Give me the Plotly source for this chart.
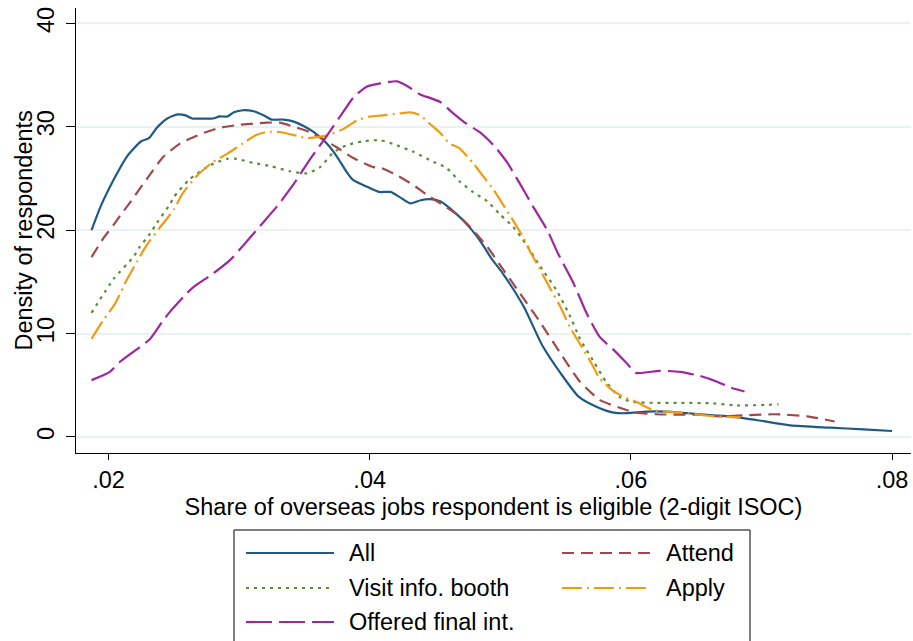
import plotly.graph_objects as go

# Kernel density of the share of overseas jobs a respondent is eligible for,
# by stage of the job-fair funnel.

all_x = [0.0187, 0.0194, 0.0204, 0.0214, 0.0225, 0.0231, 0.0237, 0.0245, 0.0253, 0.0259,
         0.0264, 0.0273, 0.0280, 0.0285, 0.0291, 0.0296, 0.0303, 0.0311, 0.0319, 0.0325,
         0.0334, 0.0342, 0.0349, 0.0357, 0.0367, 0.0375, 0.0382, 0.0387, 0.0398, 0.0407,
         0.0416, 0.0423, 0.0431, 0.0439, 0.0446, 0.0454, 0.0467, 0.0477, 0.0486, 0.0493,
         0.0502, 0.0518, 0.0532, 0.0546, 0.0560, 0.0574, 0.0587, 0.0597, 0.0612, 0.0627,
         0.0643, 0.0663, 0.0676, 0.0696, 0.0722, 0.0753, 0.0778, 0.0800]
all_y = [20.0, 22.3, 24.9, 27.1, 28.6, 28.9, 29.9, 30.8, 31.2, 31.1,
         30.8, 30.8, 30.8, 31.0, 31.0, 31.4, 31.6, 31.5, 31.1, 30.7,
         30.7, 30.5, 30.1, 29.5, 28.4, 27.1, 25.7, 24.9, 24.2, 23.7,
         23.7, 23.2, 22.6, 22.9, 23.0, 22.8, 21.5, 20.2, 18.7, 17.3,
         15.8, 12.6, 8.9, 6.2, 3.9, 2.9, 2.35, 2.3, 2.45, 2.45,
         2.3, 2.1, 2.0, 1.64, 1.13, 0.9, 0.74, 0.58]

attend_x = [0.0187, 0.0196, 0.0205, 0.0210, 0.0216, 0.0229, 0.0242, 0.0255, 0.0265, 0.0275,
            0.0285, 0.0301, 0.0311, 0.0321, 0.0331, 0.0342, 0.0354, 0.0364, 0.0375, 0.0387,
            0.0403, 0.0409, 0.0421, 0.0433, 0.0444, 0.0454, 0.0467, 0.0477, 0.0490, 0.0500,
            0.0515, 0.0530, 0.0546, 0.0561, 0.0576, 0.0592, 0.0604, 0.0620, 0.0638, 0.0653,
            0.0668, 0.0689, 0.0709, 0.0735, 0.0756]
attend_y = [17.4, 19.2, 20.7, 21.6, 22.6, 24.9, 27.1, 28.4, 29.0, 29.5,
            29.9, 30.2, 30.3, 30.4, 30.4, 30.0, 29.5, 28.8, 28.0, 27.0,
            26.1, 26.0, 25.3, 24.4, 23.4, 22.6, 21.5, 20.3, 18.4, 16.6,
            13.9, 11.2, 8.1, 5.35, 3.6, 2.8, 2.35, 2.2, 2.15, 2.15,
            2.0, 2.1, 2.2, 2.0, 1.5]

visit_x = [0.0187, 0.0204, 0.0219, 0.0224, 0.0232, 0.0237, 0.0247, 0.0250, 0.0262, 0.0278,
           0.0291, 0.0298, 0.0311, 0.0324, 0.0339, 0.0352, 0.0362, 0.0372, 0.0382, 0.0395,
           0.0408, 0.0421, 0.0433, 0.0449, 0.0459, 0.0469, 0.0479, 0.0490, 0.0500, 0.0510,
           0.0520, 0.0530, 0.0543, 0.0553, 0.0561, 0.0571, 0.0581, 0.0592, 0.0602, 0.0617,
           0.0638, 0.0663, 0.0681, 0.0713]
visit_y = [12.0, 15.3, 17.4, 18.4, 19.7, 20.7, 22.5, 23.2, 24.9, 26.3,
           26.9, 26.9, 26.5, 26.2, 25.7, 25.5, 26.1, 27.5, 28.2, 28.6,
           28.7, 28.2, 27.6, 26.6, 26.0, 24.7, 23.7, 22.8, 21.5, 20.3,
           18.6, 16.6, 14.2, 11.8, 9.5, 7.4, 5.35, 3.8, 3.4, 3.3,
           3.3, 3.25, 3.05, 3.15]

apply_x = [0.0187, 0.0196, 0.0205, 0.0214, 0.0222, 0.0229, 0.0239, 0.0250, 0.0257, 0.0268,
           0.0280, 0.0291, 0.0303, 0.0313, 0.0321, 0.0331, 0.0342, 0.0352, 0.0359, 0.0368,
           0.0380, 0.0390, 0.0400, 0.0410, 0.0423, 0.0431, 0.0439, 0.0446, 0.0454, 0.0461,
           0.0469, 0.0479, 0.0487, 0.0495, 0.0502, 0.0510, 0.0518, 0.0523, 0.0530, 0.0538,
           0.0546, 0.0553, 0.0561, 0.0569, 0.0576, 0.0587, 0.0594, 0.0604, 0.0617, 0.0627,
           0.0643, 0.0663, 0.0684]
apply_y = [9.5, 11.3, 12.9, 15.2, 17.0, 18.5, 20.2, 22.0, 23.6, 25.3,
           26.6, 27.4, 28.4, 29.2, 29.5, 29.5, 29.2, 28.9, 29.0, 29.2,
           29.8, 30.6, 31.0, 31.1, 31.3, 31.4, 31.1, 30.3, 29.4, 28.4,
           27.9, 26.5, 25.2, 23.9, 22.5, 20.9, 19.2, 17.9, 16.3, 14.4,
           12.6, 10.7, 9.0, 7.3, 5.7, 4.4, 3.9, 3.4, 2.6, 2.45,
           2.3, 2.0, 1.9]

offer_x = [0.0187, 0.0201, 0.0209, 0.0224, 0.0232, 0.0242, 0.0247, 0.0260, 0.0265, 0.0280,
           0.0293, 0.0303, 0.0316, 0.0329, 0.0342, 0.0354, 0.0367, 0.0380, 0.0388, 0.0398,
           0.0408, 0.0421, 0.0428, 0.0439, 0.0446, 0.0454, 0.0464, 0.0474, 0.0484, 0.0495,
           0.0505, 0.0515, 0.0525, 0.0536, 0.0544, 0.0556, 0.0566, 0.0576, 0.0587, 0.0597,
           0.0604, 0.0622, 0.0638, 0.0653, 0.0666, 0.0676, 0.0687]
offer_y = [5.5, 6.3, 7.3, 8.7, 9.5, 11.3, 12.1, 13.9, 14.5, 15.8,
           17.1, 18.5, 20.4, 22.3, 24.5, 26.8, 29.1, 31.5, 32.9, 33.9,
           34.2, 34.4, 34.0, 33.1, 32.8, 32.4, 31.3, 30.3, 29.5, 28.2,
           26.6, 24.5, 22.3, 20.0, 17.8, 14.9, 12.0, 9.7, 8.4, 7.1,
           6.2, 6.4, 6.3, 5.9, 5.35, 4.8, 4.4]

x_tickvals = [0.02, 0.04, 0.06, 0.08]
x_ticktext = [".02", ".04", ".06", ".08"]
y_tickvals = [0, 10, 20, 30, 40]

series = [
    ("All", all_x, all_y, "#1f5a85", "solid"),
    ("Attend", attend_x, attend_y, "#a34848", "12px,7px"),
    ("Visit info. booth", visit_x, visit_y, "#5f8c3c", "3px,5px"),
    ("Apply", apply_x, apply_y, "#f29b12", "20px,5px,2px,5px"),
    ("Offered final int.", offer_x, offer_y, "#a0269f", "26px,7px"),
]

W, H = 913, 641
ML, MR, MT, MB = 76, 2, 8, 188
FONT = "Liberation Sans, Arial, sans-serif"
FS = 23.5

fig = go.Figure()
for name, xs, ys, color, dash in series:
    fig.add_trace(go.Scatter(
        x=xs, y=ys, mode="lines", name=name, showlegend=False,
        line=dict(color=color, width=2.2, dash=dash, shape="spline", smoothing=0.6),
    ))

# Legend drawn as a boxed two-column key below the plot (pixel layout -> paper coords)
def px_x(px):
    return (px - ML) / (W - ML - MR)

def px_y(py):
    return (H - MB - py) / (H - MT - MB)

shapes = [dict(type="rect", xref="paper", yref="paper",
               x0=px_x(234), x1=px_x(750), y0=px_y(700), y1=px_y(530),
               line=dict(color="black", width=1), fillcolor="white", layer="above")]
annotations = []
slots = [(246, 334, 347, 553), (562, 651, 664, 553),
         (246, 334, 347, 588), (562, 651, 664, 588),
         (246, 334, 347, 622)]
for (name, _, _, color, dash), (lx0, lx1, tx, ty) in zip(series, slots):
    shapes.append(dict(type="line", xref="paper", yref="paper",
                       x0=px_x(lx0), x1=px_x(lx1), y0=px_y(ty), y1=px_y(ty),
                       line=dict(color=color, width=2.2, dash=dash), layer="above"))
    annotations.append(dict(xref="paper", yref="paper", x=px_x(tx), y=px_y(ty),
                            text=name, showarrow=False, xanchor="left", yanchor="middle",
                            font=dict(size=FS, color="black", family=FONT)))

# Vertical y-axis title
annotations.append(dict(xref="paper", yref="paper", x=px_x(23), y=0.5,
                        text="Density of respondents", textangle=-90, showarrow=False,
                        xanchor="center", yanchor="middle",
                        font=dict(size=FS, color="black", family=FONT)))

fig.update_layout(
    width=W, height=H,
    margin=dict(l=ML, r=MR, t=MT, b=MB),
    paper_bgcolor="white", plot_bgcolor="white",
    font=dict(family=FONT, color="black", size=FS),
    shapes=shapes, annotations=annotations,
    showlegend=False,
)
fig.update_xaxes(
    range=[0.01751, 0.08145], tickvals=x_tickvals, ticktext=x_ticktext,
    ticks="outside", ticklen=6, tickwidth=1.2, tickcolor="black",
    showline=True, linecolor="black", linewidth=1.2,
    showgrid=False, zeroline=False,
    tickfont=dict(size=FS),
    title=dict(text="Share of overseas jobs respondent is eligible (2-digit ISOC)",
               font=dict(size=FS), standoff=6),
)
fig.update_yaxes(
    range=[-1.55, 41.49], tickvals=y_tickvals, tickangle=-90,
    ticks="outside", ticklen=9, tickwidth=1.2, tickcolor="black",
    showline=True, linecolor="black", linewidth=1.2,
    showgrid=True, gridcolor="#eaf1f1", gridwidth=1.5, zeroline=False,
    tickfont=dict(size=FS), ticklabelstandoff=3,
    automargin=False,
)

fig.write_html("out.html")
